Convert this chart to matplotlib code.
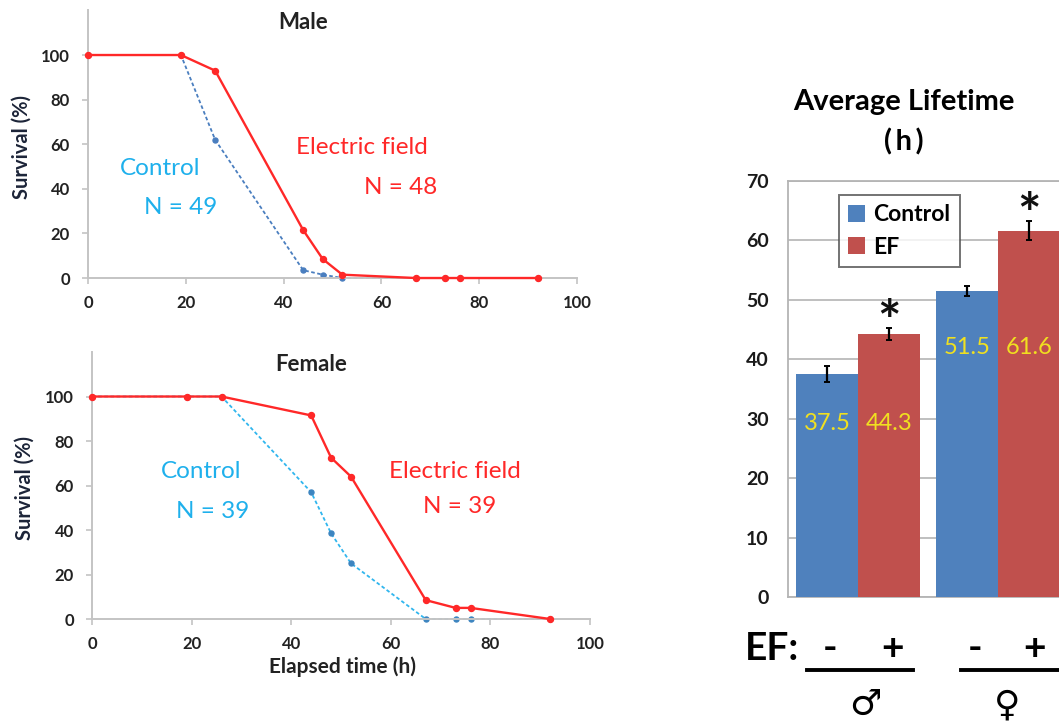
import matplotlib
matplotlib.use('Agg')
import matplotlib.pyplot as plt
import numpy as np

plt.rcParams['font.family'] = ['Lato', 'DejaVu Sans']

# survival data (time in h, survival in %)
times = [0, 19, 26, 44, 48, 52, 67, 73, 76, 92]
male_ef = [100, 100, 93, 21.5, 8.5, 1.5, 0, 0, 0, 0]
male_ctrl = [100, 100, 62, 3.5, 1.5, 0, 0, 0, 0, 0]
female_ef = [100, 100, 100, 91.5, 72.5, 64, 8.5, 5, 5, 0]
female_ctrl = [100, 100, 100, 57, 38.5, 25, 0, 0, 0, 0]
surv_ticks_x = [0, 20, 40, 60, 80, 100]
surv_ticks_y = [0, 20, 40, 60, 80, 100]

# average lifetime (h)
groups = ['male', 'female']
life_ctrl = [37.5, 51.5]
life_ef = [44.3, 61.6]
err_ctrl = [1.3, 0.9]
err_ef = [1.0, 1.6]
life_ticks = [0, 10, 20, 30, 40, 50, 60, 70]

RED = '#ff2828'
CYAN = '#1eb0ec'
GRAY = '#c4c4c4'


def survival_axes(ax, title, ctrl, ef, ctrl_line, ctrl_mark, n_ctrl, n_ef, pos):
	ax.plot(times, ctrl, linestyle=(0, (2, 1.4)), color=ctrl_line, lw=1.3,
			marker='o', ms=3.6, mfc=ctrl_mark, mec=ctrl_mark, zorder=2, clip_on=False)
	ax.plot(times, ef, '-', color=RED, lw=1.7, marker='o', ms=4.3,
			mfc=RED, mec=RED, zorder=3, clip_on=False)
	ax.set_xlim(0, 100)
	ax.set_ylim(0, 120)
	ax.set_xticks(surv_ticks_x, [str(t) for t in surv_ticks_x], fontweight='bold')
	ax.set_yticks(surv_ticks_y, [str(t) for t in surv_ticks_y], fontweight='bold')
	for s in ['top', 'right']:
		ax.spines[s].set_visible(False)
	for s in ['left', 'bottom']:
		ax.spines[s].set_color(GRAY)
		ax.spines[s].set_linewidth(1.4)
	ax.tick_params(colors=GRAY, length=4, width=1.2, labelcolor='#222222', labelsize=12)
	ax.tick_params(axis='x', pad=8)
	ax.tick_params(axis='y', pad=9)
	ax.set_ylabel('Survival (%)', fontsize=14.5, fontweight='bold', color='#1c2438')
	ax.yaxis.set_label_coords(-0.116, 0.49)
	ax.text(44, 114.5, title, ha='center', va='center', fontsize=16, fontweight='bold', color='#222222')
	cx, cy, nx, ny, ex, ey, mx, my = pos
	ax.text(cx, cy, 'Control', color=CYAN, fontsize=17.5, ha='center', va='center')
	ax.text(nx, ny, 'N = %d' % n_ctrl, color=CYAN, fontsize=17.5, ha='center', va='center')
	ax.text(ex, ey, 'Electric field', color=RED, fontsize=17.5, ha='center', va='center')
	ax.text(mx, my, 'N = %d' % n_ef, color=RED, fontsize=17.5, ha='center', va='center')


def main():
	fig = plt.figure(figsize=(10.59, 7.24), dpi=100)

	ax1 = fig.add_axes([0.0831, 0.616, 0.4618, 0.3696])
	survival_axes(ax1, 'Male', male_ctrl, male_ef, '#4a7ebf', '#4a7ebf', 49, 48,
				  (14.8, 49.3, 18.9, 31.4, 55.9, 58.7, 64, 40.8))

	ax2 = fig.add_axes([0.0869, 0.145, 0.4703, 0.3688])
	survival_axes(ax2, 'Female', female_ctrl, female_ef, '#30b6ee', '#3d85c0', 39, 39,
				  (21.9, 66.4, 24.3, 48.5, 72.9, 66.4, 73.9, 50.7))
	ax2.set_xlabel('Elapsed time (h)', fontsize=15, fontweight='bold', color='#222222')
	ax2.xaxis.set_label_coords(0.503, -0.14)

	# bar chart
	ax3 = fig.add_axes([0.7441, 0.1754, 0.2644, 0.5746])
	x = np.arange(len(groups))
	w = 0.44
	ekw = dict(ecolor='black', elinewidth=1.6, capthick=1.4)
	ax3.bar(x - w / 2, life_ctrl, w, color='#4f81bd', yerr=err_ctrl, capsize=2.5,
			error_kw=ekw, label='Control', zorder=3)
	ax3.bar(x + w / 2, life_ef, w, color='#c0504d', yerr=err_ef, capsize=2.5,
			error_kw=ekw, label='EF', zorder=3)
	ax3.set_xlim(-0.5, 1.5)
	ax3.set_ylim(0, 70)
	ax3.set_yticks(life_ticks, [str(t) for t in life_ticks], fontweight='bold')
	ax3.set_xticks([])
	ax3.yaxis.grid(True, color='#b4b4b4', lw=1.2, zorder=0)
	for s in ['left', 'top', 'bottom', 'right']:
		ax3.spines[s].set_color('#b4b4b4')
		ax3.spines[s].set_linewidth(1.3)
	ax3.tick_params(axis='y', length=0, pad=14, labelsize=14, labelcolor='#1a1a1a')

	# value labels sit at a common height inside each pair of bars
	for xi in x:
		ylab = life_ctrl[xi] - 8.3 if xi == 0 else life_ctrl[xi] - 9.5
		ax3.text(xi - w / 2, ylab, '%.1f' % life_ctrl[xi], color='#f0e020',
				 fontsize=17, ha='center', va='center', zorder=4)
		ax3.text(xi + w / 2, ylab, '%.1f' % life_ef[xi], color='#f0e020',
				 fontsize=17, ha='center', va='center', zorder=4)
	for xi, v, e in zip(x, life_ef, err_ef):
		ax3.text(xi + w / 2, v + e - 2.0, '*', fontsize=40, fontweight='bold',
				 ha='center', va='baseline', color='#111111', zorder=4)

	leg = ax3.legend(loc='upper left', bbox_to_anchor=(0.182, 0.966), borderaxespad=0,
					 fancybox=False, edgecolor='#505050', handlelength=0.75, handleheight=0.75,
					 handletextpad=0.35, borderpad=0.4, labelspacing=0.5,
					 prop={'weight': 'bold', 'size': 16.5})
	leg.get_frame().set_linewidth(1.4)

	fig.text(0.8536, 0.859, 'Average Lifetime', ha='center', va='center', fontsize=21, fontweight='bold')
	fig.text(0.8536, 0.804, '(\u2009h\u2009)', ha='center', va='center', fontsize=21, fontweight='bold')

	trans = ax3.get_xaxis_transform()
	ax3.text(-0.614, -0.123, 'EF:', transform=trans, ha='center', va='center',
			 fontsize=28, fontweight='bold', clip_on=False)
	for xs, sign in zip([-0.2, 0.243, 0.836, 1.264], ['-', '+', '-', '+']):
		ax3.text(xs, -0.123, sign, transform=trans, ha='center', va='center',
				 fontsize=28, fontweight='bold', clip_on=False)
	ax3.plot([-0.364, 0.393], [-0.1755, -0.1755], color='black', lw=2.8,
			 transform=trans, clip_on=False)
	ax3.plot([0.736, 1.6], [-0.1755, -0.1755], color='black', lw=2.8,
			 transform=trans, clip_on=False)
	ax3.text(0.05, -0.26, '\u2642', transform=trans, ha='center', va='center',
			 fontsize=26, family=['DejaVu Sans'], clip_on=False)
	ax3.text(1.064, -0.26, '\u2640', transform=trans, ha='center', va='center',
			 fontsize=26, family=['DejaVu Sans'], clip_on=False)

	fig.savefig('out.png', dpi=100)


if __name__ == '__main__':
	main()
